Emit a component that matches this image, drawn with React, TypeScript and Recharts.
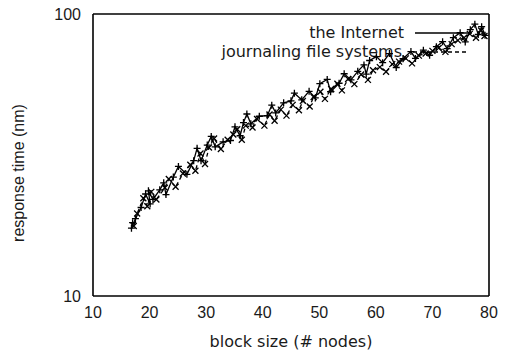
import { LineChart, Line, XAxis, YAxis, Customized } from 'recharts'

const xTicks = [10, 20, 30, 40, 50, 60, 70, 80]
const xMinorTicks = [20, 30, 40, 50, 60, 70]
const yTicks = [10, 100]
const yMinorTicks = [20, 30, 40, 50, 60, 70, 80, 90]

const seriesNames = ['the Internet', 'journaling file systems']

// block size, response time
const internet = [
    [17.0, 18.2], [16.8, 17.4], [17.5, 18.8], [18.5, 20.6], [19.3, 23.0], [20.1, 21.2],
    [19.8, 23.6], [20.6, 22.0], [21.8, 23.8], [22.5, 25.2], [22.9, 22.9], [24.2, 26.4],
    [25.1, 28.8], [26.6, 27.0], [27.8, 30.2], [28.4, 33.4], [29.1, 30.2], [30.2, 34.3],
    [30.9, 36.8], [31.6, 33.8], [33.0, 35.2], [34.3, 35.6], [35.1, 39.8], [36.0, 37.0],
    [36.6, 41.2], [37.2, 44.2], [37.9, 40.8], [39.4, 43.4], [40.8, 43.6], [41.6, 47.5],
    [42.3, 44.6], [43.7, 48.4], [45.0, 49.2], [45.6, 52.4], [46.9, 49.6], [48.2, 53.2],
    [49.3, 50.4], [50.1, 56.6], [51.4, 58.6], [52.0, 53.0], [53.5, 56.8], [54.4, 61.4],
    [55.6, 58.4], [56.8, 62.6], [57.9, 66.0], [58.3, 61.2], [58.9, 68.4], [60.1, 70.6],
    [61.2, 67.2], [62.4, 72.4], [63.6, 64.6], [64.8, 69.4], [66.2, 73.6], [67.0, 69.6],
    [68.4, 74.4], [69.5, 71.4], [70.7, 76.6], [71.8, 79.8], [72.6, 75.4], [73.7, 82.4],
    [74.9, 85.8], [75.8, 79.6], [76.7, 88.0], [77.5, 92.0], [78.1, 84.6], [78.7, 90.2],
    [79.3, 84.0],
]

const journaling = [
    [17.2, 17.7], [17.8, 19.6], [18.9, 22.2], [19.6, 20.8], [20.3, 23.4], [21.2, 22.0],
    [22.7, 24.2], [23.4, 26.0], [24.6, 24.4], [25.9, 27.2], [27.2, 29.2], [28.1, 27.8],
    [29.0, 32.0], [29.8, 29.4], [30.5, 33.6], [31.4, 36.2], [32.6, 33.2], [33.8, 35.8],
    [34.8, 37.4], [35.5, 39.0], [36.3, 35.8], [37.0, 40.2], [38.2, 39.6], [39.0, 42.4],
    [40.3, 40.2], [41.2, 44.0], [42.1, 41.8], [43.2, 45.8], [44.2, 43.6], [45.3, 47.6],
    [46.4, 45.6], [47.1, 49.2], [48.3, 47.0], [49.0, 50.8], [50.2, 53.0], [51.0, 50.0],
    [52.1, 54.2], [53.2, 56.6], [54.0, 53.6], [55.1, 58.8], [56.2, 56.4], [57.4, 61.0],
    [58.6, 58.4], [59.5, 63.2], [60.7, 64.8], [61.8, 62.4], [62.9, 66.4], [64.1, 67.8],
    [65.3, 69.6], [66.4, 66.8], [67.6, 71.2], [68.8, 72.4], [70.0, 74.0], [71.1, 75.8],
    [72.3, 73.4], [73.4, 78.2], [74.5, 80.6], [75.6, 82.4], [76.6, 85.0], [77.7, 82.4],
    [78.6, 87.4], [79.2, 83.6],
]

const toRows = (pts: number[][]) => pts.map(([x, y]) => ({ x, y }))

const FONT = 'Liberation Sans, Arial, sans-serif'
const WIDE_FONT = 'DejaVu Sans, Verdana, sans-serif'
const INK = '#1a1a1a'

function PlusDot(props: any) {
    const { cx, cy } = props
    if (cx == null || cy == null) return null
    return (
        <path
            d={`M${cx - 3.5},${cy}H${cx + 3.5}M${cx},${cy - 3.5}V${cy + 3.5}`}
            stroke='#000'
            strokeWidth={1.3}
        />
    )
}

function CrossDot(props: any) {
    const { cx, cy } = props
    if (cx == null || cy == null) return null
    return (
        <path
            d={`M${cx - 3},${cy - 3}L${cx + 3},${cy + 3}M${cx - 3},${cy + 3}L${cx + 3},${cy - 3}`}
            stroke='#000'
            strokeWidth={1.3}
        />
    )
}

function KeyBox() {
    return (
        <g fontFamily={WIDE_FONT} fontSize={16} fill={INK}>
            <text x={404} y={38} textAnchor='end'>{seriesNames[0]}</text>
            <line x1={415} y1={33} x2={472} y2={33} stroke='#000' strokeWidth={1.3} />
            <text x={402} y={57} textAnchor='end'>{seriesNames[1]}</text>
            <line x1={413} y1={52} x2={468} y2={52} stroke='#000' strokeWidth={1.3} strokeDasharray='4 3' />
        </g>
    )
}

export default function App() {
    return (
        <div style={{ position: 'absolute', left: 0, top: 0, background: '#fff' }}>
            <LineChart
                width={505}
                height={353}
                margin={{ top: 14, right: 16, bottom: 0, left: 0 }}
            >
                <XAxis
                    xAxisId='b'
                    type='number'
                    dataKey='x'
                    domain={[10, 80]}
                    ticks={xTicks}
                    allowDataOverflow
                    height={57}
                    tickLine={false}
                    tickSize={0}
                    tickMargin={11}
                    axisLine={{ stroke: '#000', strokeWidth: 1.6 }}
                    tick={{ fill: INK, fontSize: 16, fontFamily: FONT }}
                    label={{
                        value: 'block size (# nodes)',
                        position: 'center',
                        dy: 17,
                        fill: INK,
                        fontSize: 16,
                        fontFamily: WIDE_FONT,
                    }}
                />
                <XAxis
                    xAxisId='bm'
                    type='number'
                    domain={[10, 80]}
                    ticks={xMinorTicks}
                    mirror
                    axisLine={false}
                    tickSize={6}
                    tickLine={{ stroke: '#000' }}
                    tickFormatter={() => ''}
                />
                <XAxis
                    xAxisId='t'
                    orientation='top'
                    type='number'
                    domain={[10, 80]}
                    ticks={xMinorTicks}
                    mirror
                    tickSize={6}
                    axisLine={{ stroke: '#000', strokeWidth: 1.6 }}
                    tickLine={{ stroke: '#000' }}
                    tickFormatter={() => ''}
                />
                <YAxis
                    yAxisId='l'
                    type='number'
                    scale='log'
                    domain={[10, 100]}
                    ticks={yTicks}
                    allowDataOverflow
                    width={93}
                    tickLine={false}
                    tickSize={0}
                    tickMargin={12}
                    axisLine={{ stroke: '#000', strokeWidth: 1.6 }}
                    tick={{ fill: INK, fontSize: 16, fontFamily: FONT }}
                    label={{
                        value: 'response time (nm)',
                        angle: -90,
                        position: 'center',
                        dx: -28,
                        dy: 18,
                        fill: INK,
                        fontSize: 16,
                        fontFamily: FONT,
                    }}
                />
                <YAxis
                    yAxisId='lm'
                    type='number'
                    scale='log'
                    domain={[10, 100]}
                    ticks={yMinorTicks}
                    mirror
                    axisLine={false}
                    tickSize={6}
                    tickLine={{ stroke: '#000' }}
                    tickFormatter={() => ''}
                />
                <YAxis
                    yAxisId='r'
                    orientation='right'
                    type='number'
                    scale='log'
                    domain={[10, 100]}
                    ticks={yMinorTicks}
                    mirror
                    tickSize={6}
                    axisLine={{ stroke: '#000', strokeWidth: 1.6 }}
                    tickLine={{ stroke: '#000' }}
                    tickFormatter={() => ''}
                />
                <Line
                    xAxisId='b'
                    yAxisId='l'
                    data={toRows(internet)}
                    dataKey='y'
                    name={seriesNames[0]}
                    stroke='#000'
                    strokeWidth={1.3}
                    dot={<PlusDot />}
                    isAnimationActive={false}
                />
                <Line
                    xAxisId='b'
                    yAxisId='l'
                    data={toRows(journaling)}
                    dataKey='y'
                    name={seriesNames[1]}
                    stroke='#000'
                    strokeWidth={1.3}
                    strokeDasharray='4 3'
                    dot={<CrossDot />}
                    isAnimationActive={false}
                />
                <Customized component={KeyBox} />
            </LineChart>
        </div>
    )
}
